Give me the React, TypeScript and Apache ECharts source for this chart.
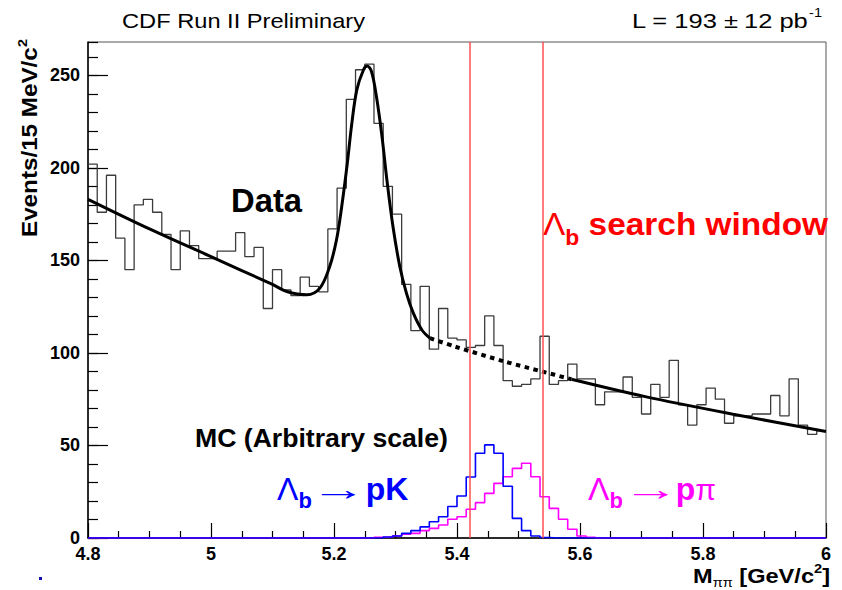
import React, { useEffect, useRef } from 'react';
import * as echarts from 'echarts';

// ---------- axis ranges ----------
const X_MIN = 4.8;
const X_MAX = 6.0;
const BIN_WIDTH = 0.015; // 15 MeV bins
const Y_MAX = 268;
const xTickStep = 0.2;
const yTickValues = [0, 50, 100, 150, 200, 250];

// ---------- data histogram (events per 15 MeV bin, 80 bins from 4.8 to 6.0) ----------
const dataCounts = [
  202, 176, 196, 162, 145, 180, 183, 176, 164, 145,
  166, 158, 151, 151, 155, 155, 165, 152, 157, 124,
  145, 134, 131, 141, 136, 133, 167, 189, 237, 253,
  256, 224, 190, 175, 137, 112, 136, 102, 124, 108,
  107, 103, 104, 120, 104, 85, 82, 83, 86, 109,
  83, 85, 94, 86, 86, 72, 79, 79, 87, 76,
  67, 83, 76, 96, 72, 61, 72, 81, 75, 62,
  66, 66, 67, 67, 77, 66, 86, 61, 56, 58,
];

// ---------- MC Lambda_b -> pK (arbitrary scale) ----------
const mcPK = [
  0, 0, 0, 0, 0, 0, 0, 0, 0, 0,
  0, 0, 0, 0, 0, 0, 0, 0, 0, 0,
  0, 0, 0, 0, 0, 0, 0, 0, 0, 0,
  0, 0, 0.5, 1.1, 2.5, 4, 6, 8.8, 11.5, 17,
  22.7, 33, 45.8, 50.3, 45.8, 28, 10.6, 4, 1.1, 0.3,
  0, 0, 0, 0, 0, 0, 0, 0, 0, 0,
  0, 0, 0, 0, 0, 0, 0, 0, 0, 0,
  0, 0, 0, 0, 0, 0, 0, 0, 0, 0,
];

// ---------- MC Lambda_b -> p pi (arbitrary scale) ----------
const mcPPi = [
  0, 0, 0, 0, 0, 0, 0, 0, 0, 0,
  0, 0, 0, 0, 0, 0, 0, 0, 0, 0,
  0, 0, 0, 0, 0, 0, 0, 0, 0, 0,
  0, 0.4, 0.4, 1.1, 2, 2.5, 4, 5.2, 7, 10.1,
  11.5, 15.5, 19.1, 24.1, 29.5, 33.1, 37.6, 40.4, 33.1, 22.3,
  16, 10.1, 4.7, 1.1, 0.4, 0, 0, 0, 0, 0,
  0, 0, 0, 0, 0, 0, 0, 0, 0, 0,
  0, 0, 0, 0, 0, 0, 0, 0, 0, 0,
];

// ---------- fit curve ----------
const fitLeft: [number, number][] = [
  [4.8, 183], [4.9, 167], [5.0, 152], [5.1, 137], [5.123, 133.2], [5.156, 131.4],
  [5.177, 135], [5.193, 146.7], [5.204, 161], [5.2125, 179], [5.221, 200.7],
  [5.229, 224], [5.237, 242], [5.248, 253], [5.254, 255], [5.261, 252],
  [5.269, 238.5], [5.278, 217], [5.286, 193.5], [5.296, 168], [5.307, 146.7],
  [5.318, 132], [5.329, 121.5], [5.343, 112.4], [5.356, 108],
];
const fitDotted: [number, number][] = [
  [5.356, 108], [5.397, 103.4], [5.478, 95.3], [5.538, 90], [5.586, 85.8],
];
const fitRight: [number, number][] = [
  [5.586, 85.8], [5.706, 76.4], [5.849, 66.9], [6.0, 57.5],
];

// ---------- search window edges ----------
const windowEdges = [5.416, 5.536];

const FAMILY = "'Liberation Sans', Arial, Helvetica, sans-serif";

function histPoints(values: number[]): [number, number][] {
  const pts: [number, number][] = values.map((v, i) => [X_MIN + i * BIN_WIDTH, v]);
  pts.push([X_MAX, values[values.length - 1]]);
  return pts;
}

let measureCtx: CanvasRenderingContext2D | null = null;
function measure(t: string, size: number, bold: boolean): number {
  if (!measureCtx) measureCtx = document.createElement('canvas').getContext('2d');
  if (!measureCtx) return t.length * size * 0.55;
  measureCtx.font = `${bold ? 'bold ' : ''}${size}px ${FAMILY}`;
  return measureCtx.measureText(t).width;
}

type Run = {
  t: string;
  size: number;
  bold?: boolean;
  dy?: number;
  dx?: number;
  w?: number; // target advance width of this run (horizontal stretch)
  color?: string;
};

function runsGroup(
  x: number,
  y: number,
  runs: Run[],
  color: string,
  opts: { align?: 'left' | 'right'; rotation?: number; width?: number } = {}
): any {
  let cx = 0;
  const children: any[] = [];
  for (const r of runs) {
    cx += r.dx || 0;
    const natural = measure(r.t, r.size, !!r.bold);
    const sx = r.w ? r.w / natural : 1;
    children.push({
      type: 'text',
      x: cx,
      y: (r.dy || 0) - 0.35 * r.size,
      scaleX: sx,
      style: {
        text: r.t,
        fontFamily: FAMILY,
        fontSize: r.size,
        fontWeight: r.bold ? 'bold' : 'normal',
        fill: r.color || color,
        align: 'left',
        textAlign: 'left',
        verticalAlign: 'middle',
        textVerticalAlign: 'middle',
      },
    });
    cx += natural * sx;
  }
  const gsx = opts.width ? opts.width / cx : 1;
  if (opts.align === 'right') children.forEach((c) => (c.x -= cx));
  return {
    type: 'group',
    x,
    y,
    rotation: opts.rotation || 0,
    scaleX: gsx,
    silent: true,
    children,
  };
}

export default function App() {
  const ref = useRef<HTMLDivElement>(null);
  useEffect(() => {
    if (!ref.current) return;
    const chart = echarts.init(ref.current, undefined, { renderer: 'svg' });

    const labelStyle = {
      fontFamily: FAMILY,
      fontSize: 18,
      fontWeight: 'bold' as const,
      color: '#000',
    };

    const graphics: any[] = [
      runsGroup(122, 28, [{ t: 'CDF Run II Preliminary', size: 21 }], '#000', { width: 243 }),
      runsGroup(632, 28, [
        { t: 'L = 193', size: 21 },
        { t: '±', size: 21, dx: 5 },
        { t: '12 pb', size: 21, dx: 5 },
        { t: '-1', size: 12, dy: -11, dx: 1 },
      ], '#000', { width: 190 }),
      runsGroup(231, 212, [{ t: 'Data', size: 33, bold: true }], '#000', { width: 71 }),
      runsGroup(543, 235, [
        { t: 'Λ', size: 32 },
        { t: 'b', size: 22, bold: true, dy: 10 },
        { t: ' search window', size: 32, bold: true },
      ], '#ff0000', { width: 285 }),
      runsGroup(195, 447, [{ t: 'MC (Arbitrary scale)', size: 25, bold: true }], '#000', { width: 253 }),
      runsGroup(277, 500, [
        { t: 'Λ', size: 32 },
        { t: 'b', size: 22, bold: true, dy: 8 },
        { t: '→', size: 32, dx: -1, w: 56 },
        { t: 'pK', size: 32, bold: true, dx: -1 },
      ], '#0000ff'),
      runsGroup(588, 500, [
        { t: 'Λ', size: 32 },
        { t: 'b', size: 22, bold: true, dy: 8 },
        { t: '→', size: 32, dx: 0, w: 57 },
        { t: 'p', size: 32, bold: true, dx: -4 },
        { t: 'π', size: 30 },
      ], '#ff00ff'),
      // y axis title (rotated, reads bottom to top)
      runsGroup(37, 237, [
        { t: 'Events/15 MeV/c', size: 22, bold: true },
        { t: '2', size: 13, bold: true, dy: -10 },
      ], '#000', { rotation: Math.PI / 2, width: 198 }),
      // x axis title
      runsGroup(830, 583, [
        { t: 'M', size: 21, bold: true },
        { t: 'ππ', size: 13, dy: 4 },
        { t: ' [GeV/c', size: 21, bold: true },
        { t: '2', size: 13, bold: true, dy: -10 },
        { t: ']', size: 21, bold: true },
      ], '#000', { align: 'right', width: 137 }),
      {
        type: 'rect',
        x: 39,
        y: 577,
        shape: { width: 3, height: 3 },
        style: { fill: '#1010b0' },
        silent: true,
      },
    ];

    const option: any = {
      animation: false,
      grid: {
        left: 88,
        right: 16,
        top: 42,
        bottom: 52,
        show: true,
        borderColor: '#555',
        borderWidth: 1,
        backgroundColor: 'transparent',
      },
      xAxis: {
        type: 'value',
        min: X_MIN,
        max: X_MAX,
        interval: xTickStep,
        axisLine: { show: true, onZero: false, lineStyle: { color: '#000', width: 1.5 } },
        axisTick: { show: true, inside: true, length: 15, lineStyle: { color: '#000', width: 1.2 } },
        minorTick: { show: true, splitNumber: 4, length: 7, lineStyle: { color: '#000', width: 1.2 } },
        splitLine: { show: false },
        minorSplitLine: { show: false },
        axisLabel: {
          ...labelStyle,
          margin: 7,
          formatter: (v: number) => String(parseFloat(v.toFixed(1))),
        },
      },
      yAxis: [
        {
          type: 'value',
          min: 0,
          max: Y_MAX,
          position: 'left',
          axisLine: { show: true, onZero: false, lineStyle: { color: '#000', width: 1.5 } },
          axisTick: {
            show: true,
            inside: true,
            length: 20,
            customValues: yTickValues,
            lineStyle: { color: '#000', width: 1.2 },
          },
          splitLine: { show: false },
          axisLabel: { ...labelStyle, margin: 8, customValues: yTickValues },
        },
        {
          type: 'value',
          min: 0,
          max: Y_MAX,
          interval: 10,
          position: 'left',
          offset: 0,
          axisLine: { show: false },
          axisTick: { show: true, inside: true, length: 10, lineStyle: { color: '#000', width: 1.2 } },
          splitLine: { show: false },
          axisLabel: { show: false },
        },
      ],
      graphic: graphics,
      series: [
        {
          name: 'Data',
          type: 'line',
          step: 'end',
          data: histPoints(dataCounts),
          showSymbol: false,
          symbol: 'none',
          lineStyle: { color: '#3c3c3c', width: 1.3 },
          z: 2,
        },
        {
          name: 'Fit',
          type: 'line',
          data: fitLeft,
          smooth: 0.35,
          symbol: 'none',
          lineStyle: { color: '#000', width: 3 },
          z: 3,
        },
        {
          name: 'Fit (interpolated)',
          type: 'line',
          data: fitDotted,
          smooth: 0.3,
          symbol: 'none',
          lineStyle: { color: '#000', width: 4, type: [4.5, 4.5] },
          z: 3,
        },
        {
          name: 'Fit right',
          type: 'line',
          data: fitRight,
          smooth: 0.3,
          symbol: 'none',
          lineStyle: { color: '#000', width: 3 },
          z: 3,
        },
        {
          name: 'MC p pi',
          type: 'line',
          step: 'end',
          data: histPoints(mcPPi),
          symbol: 'none',
          lineStyle: { color: '#ff00ff', width: 1.6 },
          z: 4,
        },
        {
          name: 'MC pK',
          type: 'line',
          step: 'end',
          data: histPoints(mcPK),
          symbol: 'none',
          lineStyle: { color: '#0000ff', width: 1.6 },
          z: 5,
          markLine: {
            silent: true,
            symbol: 'none',
            label: { show: false },
            lineStyle: { color: '#ff5050', width: 1.5, type: 'solid' },
            data: windowEdges.map((x) => ({ xAxis: x })),
            z: 6,
          },
        },
      ],
    };

    chart.setOption(option);
    return () => chart.dispose();
  }, []);

  return (
    <div
      ref={ref}
      style={{ position: 'absolute', left: 0, top: 0, width: 842, height: 590, background: '#fff' }}
    />
  );
}
